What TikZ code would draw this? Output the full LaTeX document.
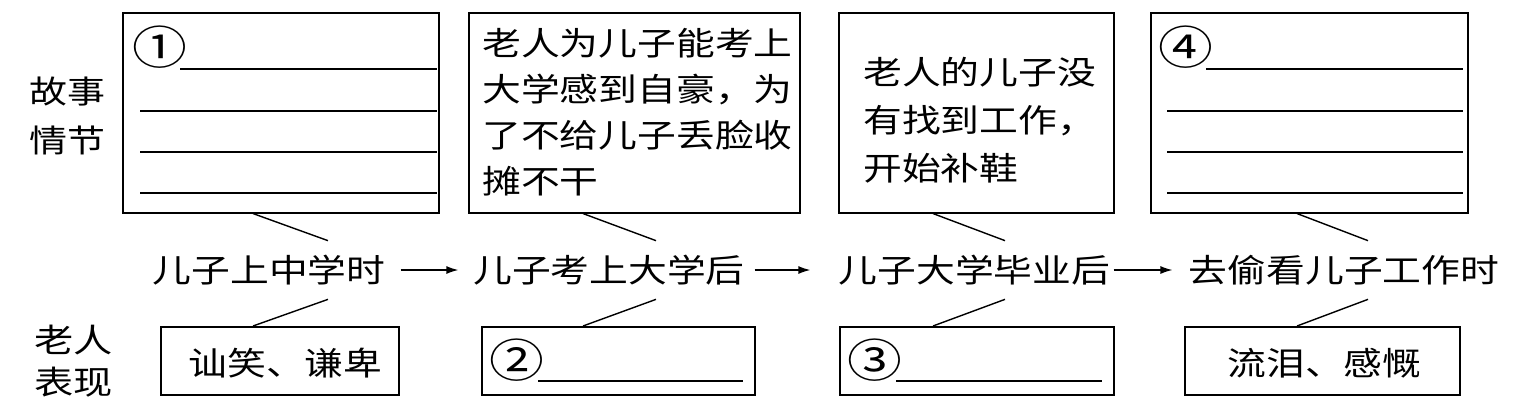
\documentclass[tikz,border=0pt]{standalone}
\usepackage{fontspec}
\newfontfamily\cjk[FakeStretch = 1.2]{Noto Sans CJK SC}
\usetikzlibrary{arrows.meta}
\begin{document}
\begin{tikzpicture}[x = 0.02cm, y = -0.02cm]
        \tikzset{
            frame/.style = {draw, line width = 0.9pt, inner sep = 0pt, anchor = north west},
            cjktext/.style = {font = \cjk\fontsize{18.4pt}{26pt}\selectfont, inner sep = 0pt},
            circnum/.style = {font = \cjk\fontsize{26pt}{26pt}\selectfont, inner sep = 0pt},
            blank/.style = {line width = 1pt},
            link/.style = {line width = 0.8pt}
        }
        \useasboundingbox (0, 0) rectangle (1525, 407);
        \foreach \bn/\bl/\br in {1/122/438, 2/468/799, 3/838/1113, 4/1150/1467}{
            \node[frame, minimum width = {(\br - \bl) * 0.02cm}, minimum height = 4cm] (bx\bn) at (\bl, 12) {};
        }
        \foreach \bn/\bl/\br in {1/160/398, 2/481/754, 3/839/1113, 4/1184/1459}{
            \node[frame, minimum width = {(\br - \bl) * 0.02cm}, minimum height = 1.36cm] (bt\bn) at (\bl, 326) {};
        }
        \foreach \tn/\tx/\tlab in {1/269/儿子上中学时, 2/609/儿子考上大学后, 3/974.5/儿子大学毕业后, 4/1344/去偷看儿子工作时}{
            \node[cjktext, minimum height = 1.16cm] (t\tn) at (\tx, 270) {\tlab};
        }
        \foreach \tn/\ta/\tb in {1/253/328, 2/583/656, 3/933/1005, 4/1297/1368}{
            \coordinate (ka\tn) at (\ta, 0);
            \coordinate (kb\tn) at (\tb, 0);
            \draw[link] (bx\tn.south -| ka\tn) -- (t\tn.north -| kb\tn);
            \draw[link] (t\tn.south -| kb\tn) -- (bt\tn.north -| ka\tn);
        }
        \foreach \tn/\tm/\sa/\sb in {1/2/3mm/2.9mm, 2/3/1.9mm/5.6mm, 3/4/0.6mm/3.2mm}{
            \draw[line width = 0.8pt, -{Latex[length = 2.4mm, width = 1.6mm]}, shorten < = \sa, shorten > = \sb] (t\tn.east) -- (t\tm.west);
        }
        \foreach \cn/\cx/\lleft/\lright/\cnum in {1/160/140/437/①, 4/1186/1167/1463/④}{
            \node[circnum] (c\cn) at (\cx, 47) {\cnum};
            \draw[blank] (\cx + 20, 69) -- (\lright, 69);
            \foreach \ly in {111, 152, 193}{
                \draw[blank] (\lleft, \ly) -- (\lright, \ly);
            }
        }
        \node[cjktext, align = left, anchor = north west, font = \cjk\fontsize{18.4pt}{26.2pt}\selectfont] (s2) at (482, 28) {老人为儿子能考上\\大学感到自豪，为\\了不给儿子丢脸收\\摊不干};
        \node[cjktext, align = left, anchor = north west, font = \cjk\fontsize{18.4pt}{27.3pt}\selectfont] (s3) at (863, 57) {老人的儿子没\\有找到工作，\\开始补鞋};
        \node[cjktext] (p1) at (285.5, 363) {讪笑、谦卑};
        \node[cjktext] (p4) at (1324.5, 363) {流泪、感慨};
        \foreach \cn/\cx/\lright/\cnum in {2/517/743/②, 3/875/1102/③}{
            \node[circnum] (c\cn) at (\cx, 360) {\cnum};
            \draw[blank] (\cx + 21, 381) -- (\lright, 381);
        }
        \node[cjktext, align = left, anchor = north west, font = \cjk\fontsize{18pt}{27.8pt}\selectfont] (lb1) at (29, 77) {故事\\情节};
        \node[cjktext, align = left, anchor = north west, font = \cjk\fontsize{18.6pt}{23.8pt}\selectfont] (lb2) at (34, 325) {老人\\表现};
\end{tikzpicture}
\end{document}
